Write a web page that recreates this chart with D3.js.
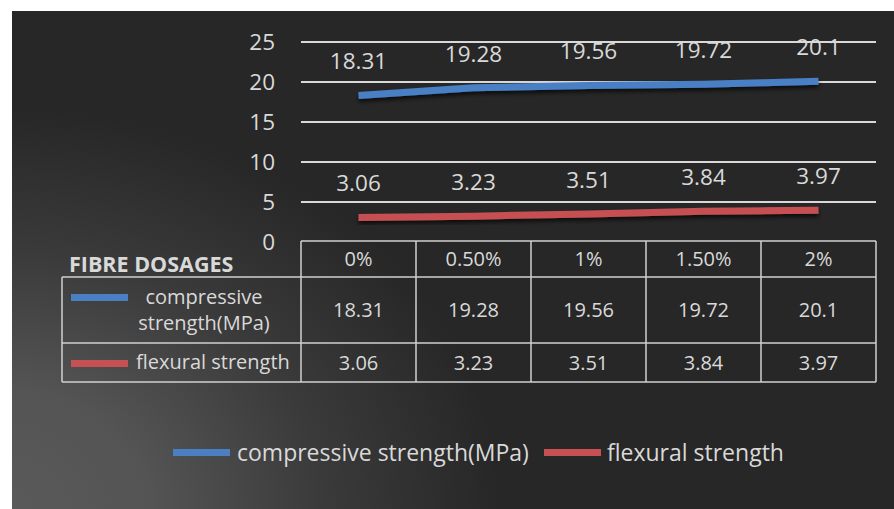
<!DOCTYPE html>
<html><head><meta charset="utf-8">
<script src="https://cdn.jsdelivr.net/npm/d3@7"></script>
<style>html,body{margin:0;padding:0;background:#fff;}svg{display:block;}</style>
</head><body>
<script>
const categories = ["0%", "0.50%", "1%", "1.50%", "2%"];
const compressive = [18.31, 19.28, 19.56, 19.72, 20.1];
const flexural = [3.06, 3.23, 3.51, 3.84, 3.97];
const yTicks = [0, 5, 10, 15, 20, 25];
const seriesNames = ["compressive strength(MPa)", "flexural strength"];
const tableHeading = "FIBRE DOSAGES";

const W = 894, H = 509;
const FONT = "'Open Sans', sans-serif";
const TXT = "#d9d9d9";
const BLUE = "#4a7fc4", RED = "#c65052";

const svg = d3.select("body").append("svg").attr("width", W).attr("height", H);
const defs = svg.append("defs");
const grad = defs.append("radialGradient").attr("id", "bg")
  .attr("gradientUnits", "userSpaceOnUse").attr("cx", 0).attr("cy", 509).attr("r", 500)
  .attr("gradientTransform", "translate(0,509) scale(1,0.8) translate(0,-509)");
[[0, "#5a5a5a"], [0.3, "#545454"], [0.65, "#3a3a3a"], [1, "#272727"]].forEach(([o, c]) =>
  grad.append("stop").attr("offset", o).attr("stop-color", c));
const f = defs.append("filter").attr("id", "sh").attr("x", "-5%").attr("y", "-100%").attr("width", "110%").attr("height", "300%");
f.append("feDropShadow").attr("dx", 0).attr("dy", 3).attr("stdDeviation", 2).attr("flood-color", "#000").attr("flood-opacity", 0.7);

svg.append("rect").attr("x", 12).attr("y", 11).attr("width", W - 12).attr("height", H - 11).attr("fill", "url(#bg)");

const x = d3.scaleBand().domain(categories).range([301, 876]);
const cx = c => x(c) + x.bandwidth() / 2;
const y = d3.scaleLinear().domain([0, 25]).range([242, 42]);

// gridlines
svg.append("g").selectAll("line").data(yTicks.filter(t => t > 0)).join("line")
  .attr("x1", 301).attr("x2", 876).attr("y1", d => y(d)).attr("y2", d => y(d))
  .attr("stroke", "#d9d9d9").attr("stroke-width", 2);

// y axis
const ax = svg.append("g").attr("transform", "translate(283,0)")
  .call(d3.axisLeft(y).tickValues(yTicks).tickSize(0).tickPadding(8).tickFormat(d3.format("d")));
ax.select(".domain").remove();
ax.selectAll("text").attr("fill", TXT).style("font-family", FONT).style("font-size", "22.5px");

// lines
const line = d3.line().x((d, i) => cx(categories[i])).y(d => y(d));
[[compressive, BLUE], [flexural, RED]].forEach(([vals, col]) => {
  svg.append("path").datum(vals).attr("d", line).attr("fill", "none")
    .attr("stroke", col).attr("stroke-width", 7).attr("stroke-linejoin", "round").attr("filter", "url(#sh)");
  svg.append("g").selectAll("text").data(vals).join("text")
    .attr("x", (d, i) => cx(categories[i])).attr("y", d => y(d) - 34)
    .attr("dy", "0.35em").attr("text-anchor", "middle")
    .attr("fill", TXT).style("font-family", FONT).style("font-size", "22.5px").text(d => d);
});

// data table
const rowsY = [241, 277, 343, 382];
const tb = svg.append("g").attr("stroke", "#d0d0d0").attr("stroke-width", 1.5).attr("fill", "none");
// horizontal lines across data columns
rowsY.forEach((ry, i) => {
  tb.append("line").attr("x1", i === 0 ? 301 : 62).attr("x2", 876).attr("y1", ry).attr("y2", ry);
});
// vertical lines
const vx = categories.map(c => x(c)).concat([x(categories[categories.length - 1]) + x.bandwidth()]);
vx.forEach(v => tb.append("line").attr("x1", v).attr("x2", v).attr("y1", 241).attr("y2", 382));
tb.append("line").attr("x1", 62).attr("x2", 62).attr("y1", 277).attr("y2", 382);

const tt = svg.append("g").style("font-family", FONT).attr("fill", TXT);
tt.selectAll(".h").data(categories).join("text")
  .attr("x", d => cx(d)).attr("y", (rowsY[0] + rowsY[1]) / 2).attr("dy", "0.35em")
  .attr("text-anchor", "middle").style("font-size", "20px").text(d => d);
[compressive, flexural].forEach((vals, r) => {
  tt.append("g").selectAll("text").data(vals).join("text")
    .attr("x", (d, i) => cx(categories[i])).attr("y", (rowsY[r + 1] + rowsY[r + 2]) / 2).attr("dy", "0.35em")
    .attr("text-anchor", "middle").style("font-size", "20px").text(d => d);
});
tt.append("text").attr("x", 69).attr("y", 272).style("font-size", "21.5px").style("font-weight", "bold").text(tableHeading);
// row labels
svg.append("rect").attr("x", 71).attr("y", 294).attr("width", 57).attr("height", 7).attr("fill", BLUE);
svg.append("rect").attr("x", 71).attr("y", 360).attr("width", 57).attr("height", 7).attr("fill", RED);
tt.append("text").attr("x", 204).attr("y", 304).attr("text-anchor", "middle").style("font-size", "20px").text("compressive");
tt.append("text").attr("x", 204).attr("y", 330).attr("text-anchor", "middle").style("font-size", "20px").text("strength(MPa)");
tt.append("text").attr("x", 136).attr("y", 369).style("font-size", "20px").text(seriesNames[1]);

// bottom legend
const lg = svg.append("g").style("font-family", FONT).attr("fill", TXT).style("font-size", "23px");
lg.append("rect").attr("x", 173).attr("y", 449).attr("width", 57).attr("height", 7).attr("fill", BLUE);
lg.append("text").attr("x", 237).attr("y", 461).text(seriesNames[0]);
lg.append("rect").attr("x", 544).attr("y", 449).attr("width", 57).attr("height", 7).attr("fill", RED);
lg.append("text").attr("x", 607).attr("y", 461).text(seriesNames[1]);
</script>
</body></html>
